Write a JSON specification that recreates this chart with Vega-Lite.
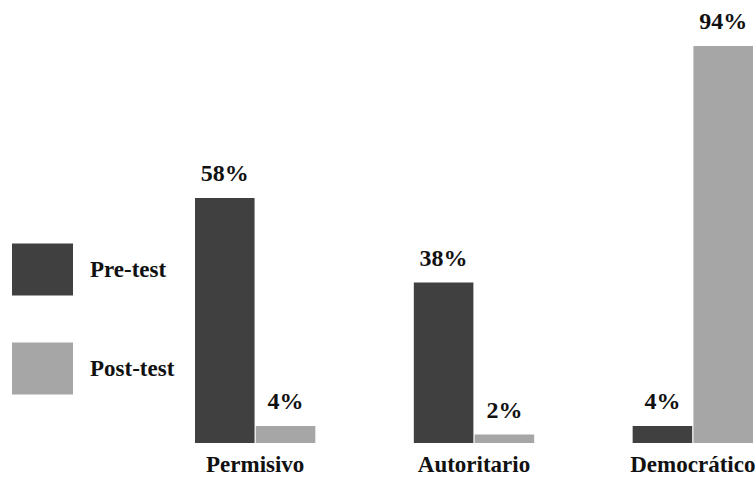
{
  "$schema": "https://vega.github.io/schema/vega-lite/v6.json",
  "autosize": "none",
  "width": 558,
  "height": 397,
  "padding": {"left": 195, "top": 46, "right": 3, "bottom": 34},
  "background": "white",
  "config": {"view": {"stroke": null}, "font": "'Liberation Serif', 'Times New Roman', 'DejaVu Serif', serif"},
  "data": {"values": [
    {"estilo": "Permisivo", "prueba": "Pre-test", "valor": 58, "etiqueta": "58%"},
    {"estilo": "Permisivo", "prueba": "Post-test", "valor": 4, "etiqueta": "4%"},
    {"estilo": "Autoritario", "prueba": "Pre-test", "valor": 38, "etiqueta": "38%"},
    {"estilo": "Autoritario", "prueba": "Post-test", "valor": 2, "etiqueta": "2%"},
    {"estilo": "Democrático", "prueba": "Pre-test", "valor": 4, "etiqueta": "4%"},
    {"estilo": "Democrático", "prueba": "Post-test", "valor": 94, "etiqueta": "94%"}
  ]},
  "encoding": {
    "x": {"field": "estilo", "type": "nominal", "sort": ["Permisivo", "Autoritario", "Democrático"],
      "scale": {"paddingInner": 0.45, "paddingOuter": 0},
      "axis": {"title": null, "domain": false, "ticks": false, "labelAngle": 0, "labelFont": "'Liberation Serif', 'Times New Roman', 'DejaVu Serif', serif", "labelFontWeight": "bold", "labelFontSize": 23, "labelColor": "#111111", "labelPadding": 21, "labelBaseline": "middle"}},
    "xOffset": {"field": "prueba", "type": "nominal", "sort": ["Pre-test", "Post-test"], "scale": {"paddingInner": 0.02}},
    "y": {"field": "valor", "type": "quantitative", "scale": {"domain": [0, 94], "nice": false}, "axis": null}
  },
  "layer": [
    {
      "mark": {"type": "bar", "strokeWidth": 0},
      "encoding": {
        "color": {"field": "prueba", "type": "nominal", "sort": ["Pre-test", "Post-test"],
          "scale": {"domain": ["Pre-test", "Post-test"], "range": ["#404040", "#a6a6a6"]},
          "legend": {"title": null, "orient": "none", "legendX": -183, "legendY": 193,
            "symbolType": "M-1,-0.852L1,-0.852L1,0.852L-1,0.852Z", "symbolSize": 3721, "symbolStrokeWidth": 0, "symbolOpacity": 1,
            "labelFont": "'Liberation Serif', 'Times New Roman', 'DejaVu Serif', serif", "labelFontWeight": "bold", "labelFontSize": 23, "labelColor": "#111111", "labelOffset": 17,
            "rowPadding": 42, "labelLimit": 200}}
      }
    },
    {
      "mark": {"type": "text", "baseline": "alphabetic", "dy": -17, "font": "'Liberation Serif', 'Times New Roman', 'DejaVu Serif', serif", "fontWeight": "bold", "fontSize": 24, "color": "#111111"},
      "encoding": {"text": {"field": "etiqueta", "type": "nominal"}}
    }
  ]
}
